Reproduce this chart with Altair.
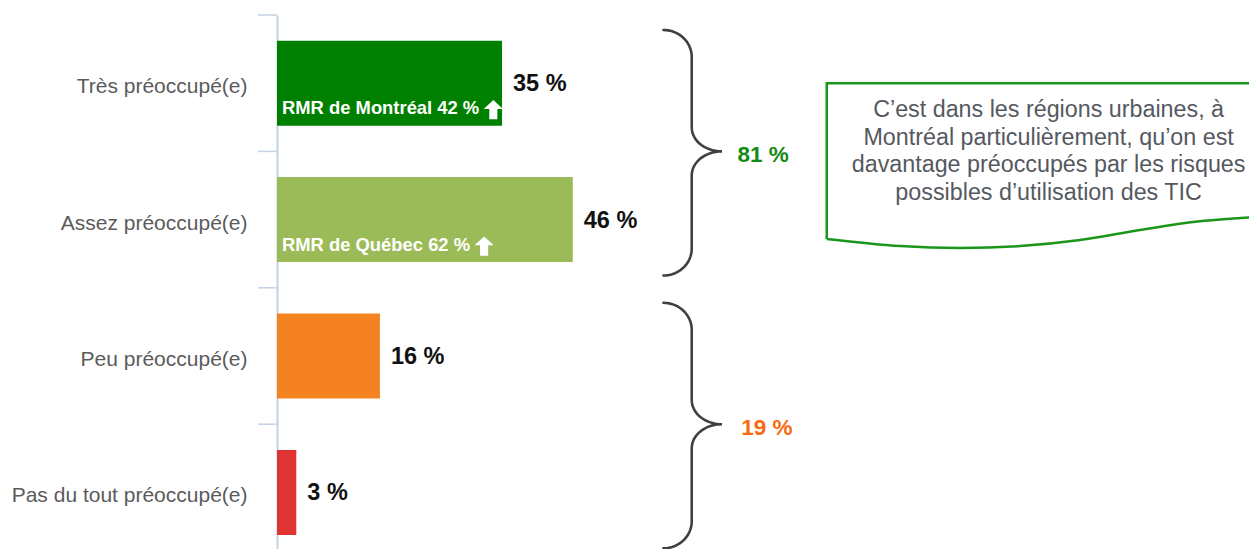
import altair as alt
import pandas as pd
import numpy as np

# ---------------- data ----------------
categories = ["Très préoccupé(e)", "Assez préoccupé(e)", "Peu préoccupé(e)", "Pas du tout préoccupé(e)"]
values = [35, 46, 16, 3]
bar_colors = ["#008000", "#9bbb59", "#f58220", "#e03434"]

highlight_categories = ["Très préoccupé(e)", "Assez préoccupé(e)"]
highlight_texts = ["RMR de Montréal 42 %", "RMR de Québec 62 %"]

group_labels = ["81 %", "19 %"]
group_first = [0, 2]
group_last = [1, 3]
group_colors = ["#138a13", "#fa6a10"]

callout_lines = [
    "C\u2019est dans les régions urbaines, à",
    "Montréal particulièrement, qu\u2019on est",
    "davantage préoccupés par les risques",
    "possibles d\u2019utilisation des TIC",
]

# ---------------- layout ----------------
FONT = "Liberation Sans, Arial, Helvetica, sans-serif"
PLOT_W = 972
PLOT_H = 534
BAND_RANGE = 545.6
PX_PER_UNIT = 6.43
X_MAX = PLOT_W / PX_PER_UNIT
HI_FONT = 18.4
HI_DX = 5
AXIS_COLOR = "#c6d2e4"

# Arial/Liberation Sans Bold advance widths (per 1000 em) to place the arrow after the label
BOLD_W = {"R": 722, "M": 833, " ": 278, "d": 611, "e": 556, "o": 611, "n": 611, "t": 333,
          "r": 389, "é": 556, "a": 556, "l": 278, "%": 889, "Q": 778, "u": 611, "b": 611,
          "c": 556}


def text_width(s, size):
    return sum(BOLD_W.get(ch, 556) for ch in s) / 1000 * size


bars_df = pd.DataFrame({
    "cat": categories,
    "value": values,
    "label": [f"{v} %" for v in values],
})
hi_df = pd.DataFrame({
    "cat": highlight_categories,
    "txt": highlight_texts,
    "zero": [0] * len(highlight_categories),
    "arrow_x": [(HI_DX + text_width(t, HI_FONT) + 14.0) / PX_PER_UNIT for t in highlight_texts],
})
tick_df = pd.DataFrame({"b": list(range(len(categories) + 1))})

x_scale = alt.Scale(domain=[0, X_MAX], nice=False, zero=False)
band_scale = alt.Scale(domain=categories, range=[0, BAND_RANGE], paddingInner=0.377, paddingOuter=0.1885)
unit_scale = alt.Scale(domain=[0, len(categories)], range=[0, BAND_RANGE], nice=False, zero=False)

y_axis = alt.Axis(
    title=None, tickSize=19, tickOpacity=0,
    domainColor=AXIS_COLOR, domainWidth=2, labelFont=FONT, labelFontSize=21,
    labelColor="#5b5b5b", labelPadding=11, labelOffset=4, labelLimit=320,
)

bars = alt.Chart(bars_df).mark_bar().encode(
    x=alt.X("value:Q", scale=x_scale, axis=None),
    y=alt.Y("cat:N", scale=band_scale, axis=y_axis, sort=categories),
    color=alt.Color("cat:N", scale=alt.Scale(domain=categories, range=bar_colors), legend=None),
)

cat_ticks = alt.Chart(tick_df).mark_rule(color=AXIS_COLOR, strokeWidth=1.5).encode(
    y=alt.Y("b:Q", scale=unit_scale, axis=None),
    x=alt.value(-19),
    x2=alt.value(0),
)

value_text = alt.Chart(bars_df).mark_text(
    align="left", baseline="middle", dx=11, dy=1, font=FONT, fontSize=23.5,
    fontWeight="bold", color="#111111",
).encode(
    x=alt.X("value:Q", scale=x_scale, axis=None),
    y=alt.Y("cat:N", scale=band_scale, axis=None, sort=categories),
    text="label:N",
)

hi_text = alt.Chart(hi_df).mark_text(
    align="left", baseline="alphabetic", dx=HI_DX, dy=31, font=FONT, fontSize=HI_FONT,
    fontWeight="bold", color="#ffffff",
).encode(
    x=alt.X("zero:Q", scale=x_scale, axis=None),
    y=alt.Y("cat:N", scale=band_scale, axis=None, sort=categories),
    text="txt:N",
)

ARROW = "M0,-1 L1,-0.08 L0.42,-0.08 L0.42,1 L-0.42,1 L-0.42,-0.08 L-1,-0.08 Z"
hi_arrow = alt.Chart(hi_df).mark_point(
    shape=ARROW, filled=True, fill="#ffffff", size=370, opacity=1, strokeWidth=0, yOffset=26.5,
).encode(
    x=alt.X("arrow_x:Q", scale=x_scale, axis=None),
    y=alt.Y("cat:N", scale=band_scale, axis=None, sort=categories),
)

# ---------------- braces ----------------
def brace_points(y0, y1, ym, xl, xv, xt, r_end, r_tip, n=16):
    t = np.linspace(0, np.pi / 2, n)
    pts = []
    pts += list(zip(xl + (xv - xl) * np.sin(t), y0 + r_end * (1 - np.cos(t))))
    pts += list(zip(xv + (xt - xv) * (1 - np.cos(t)), ym - r_tip + r_tip * np.sin(t)))
    pts += list(zip(xv + (xt - xv) * (1 - np.sin(t)), ym + r_tip * (1 - np.cos(t))))
    pts += list(zip(xl + (xv - xl) * np.cos(t), y1 - r_end + r_end * np.sin(t)))
    return pts

rows = []
lab_rows = []
for g, (lab, f, l, col) in enumerate(zip(group_labels, group_first, group_last, group_colors)):
    y0 = f + 0.11
    y1 = l + 1 - 0.09
    ym = (f + l + 1) / 2
    for i, (bx, by) in enumerate(brace_points(y0, y1, ym, 60.1, 64.5, 69.2, 0.198, 0.176)):
        rows.append({"g": g, "i": i, "ax": float(bx), "ay": float(by)})
    lab_rows.append({"label": lab, "ax": 71.6 + 0.6 * g, "ay": ym, "col": col})
brace_df = pd.DataFrame(rows)
glab_df = pd.DataFrame(lab_rows)

braces = alt.Chart(brace_df).mark_line(color="#404040", strokeWidth=2.6, strokeCap="round").encode(
    x=alt.X("ax:Q", scale=x_scale, axis=None),
    y=alt.Y("ay:Q", scale=unit_scale, axis=None),
    detail="g:N",
    order="i:Q",
)

group_text = alt.Chart(glab_df).mark_text(
    align="left", baseline="middle", dy=3.5, font=FONT, fontSize=22.5, fontWeight="bold",
).encode(
    x=alt.X("ax:Q", scale=x_scale, axis=None),
    y=alt.Y("ay:Q", scale=unit_scale, axis=None),
    text="label:N",
    color=alt.Color("col:N", scale=None),
)

# ---------------- callout ----------------
outline_df = pd.DataFrame({
    "i": [0, 1, 2],
    "ax": [X_MAX, 85.5, 85.5],
    "ay": [0.501, 0.501, 1.642],
})
wave_df = pd.DataFrame({
    "i": list(range(8)),
    "ax": [85.5, 96.9, 106.2, 115.6, 124.9, 134.2, 143.5, X_MAX],
    "ay": [1.642, 1.694, 1.708, 1.694, 1.650, 1.576, 1.512, 1.484],
})
callout_color = "#1a961a"
outline = alt.Chart(outline_df).mark_line(color=callout_color, strokeWidth=2.5, strokeJoin="miter").encode(
    x=alt.X("ax:Q", scale=x_scale, axis=None),
    y=alt.Y("ay:Q", scale=unit_scale, axis=None),
    order="i:Q",
)
wave = alt.Chart(wave_df).mark_line(color=callout_color, strokeWidth=2.5, interpolate="monotone").encode(
    x=alt.X("ax:Q", scale=x_scale, axis=None),
    y=alt.Y("ay:Q", scale=unit_scale, axis=None),
    order="i:Q",
)
callout_df = pd.DataFrame({"ax": [120.0], "ay": [0.746], "txt": ["\n".join(callout_lines)]})
callout_text = alt.Chart(callout_df).mark_text(
    align="center", baseline="alphabetic", font=FONT, fontSize=23.3, lineHeight=27.8,
    color="#55595f", lineBreak="\n",
).encode(
    x=alt.X("ax:Q", scale=x_scale, axis=None),
    y=alt.Y("ay:Q", scale=unit_scale, axis=None),
    text="txt:N",
)

chart = alt.layer(
    bars, cat_ticks, value_text, hi_text, hi_arrow, braces, group_text, outline, wave, callout_text
).resolve_scale(
    y="independent", color="independent"
).properties(
    width=PLOT_W,
    height=PLOT_H,
    autosize=alt.AutoSizeParams(type="none"),
    padding={"left": 269, "top": 7, "right": 0, "bottom": 0},
).configure_view(strokeWidth=0)

chart.save("out.html", embed_options={"renderer": "svg", "actions": False})
